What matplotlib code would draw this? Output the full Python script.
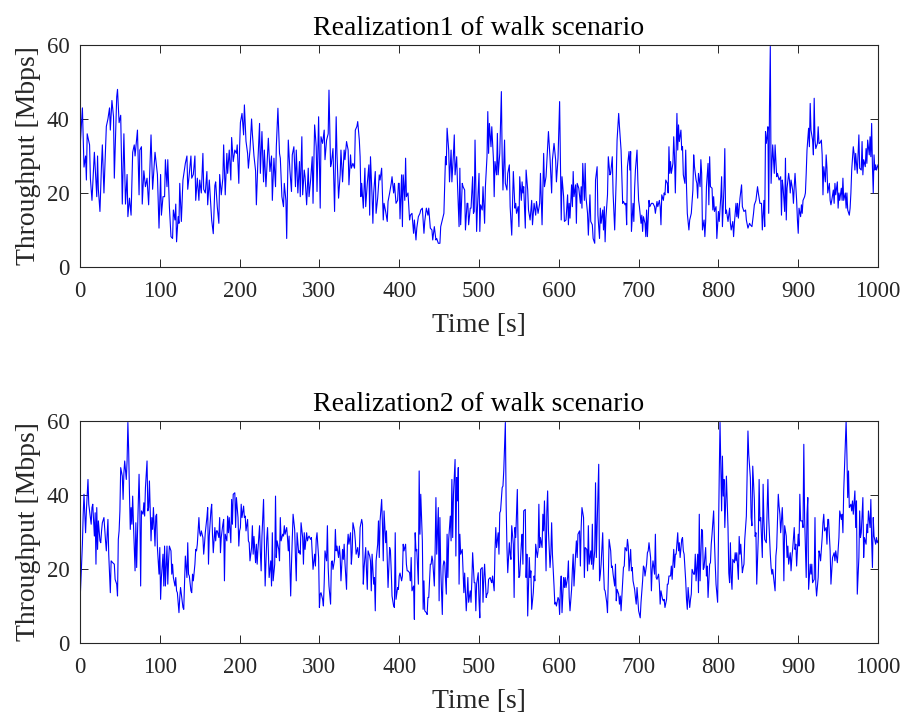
import matplotlib
matplotlib.use("Agg")
import matplotlib.pyplot as plt

# (time [s], throughput [Mbps])
walk1 = [
    (0, 32), (3, 43), (5, 27), (7, 30), (8, 23.5), (9, 36), (12, 33), (13, 24), (15, 18), (18, 31),
    (21, 19), (22, 30), (23, 21), (25, 15), (27, 28), (28, 33), (30, 20), (33, 38), (35, 40), (37, 43),
    (38, 37), (40, 45), (42, 40.6), (43, 24), (46, 46), (47, 48), (49, 39), (51, 41), (53, 17), (55, 36),
    (57, 17), (59, 25), (60, 13.6), (62, 18.6), (64, 14), (66, 31), (68, 33), (69, 30), (72, 37), (74, 19.5),
    (75, 31.6), (77, 32.5), (78, 17), (80, 26), (82, 21.7), (84, 24), (86, 16.8), (89, 35.7), (91, 21), (94, 31),
    (97, 25), (99, 10.5), (101, 25), (102, 14), (104, 19), (106, 19), (107, 29), (109, 21.7), (110, 29), (112, 16.3),
    (114, 8.2), (116, 7.7), (117, 15.4), (119, 12.7), (120, 17), (121, 6.8), (123, 13.6), (124, 11.8), (125, 22.6), (127, 12.3),
    (129, 23.5), (130, 25), (132, 28), (134, 30), (135, 21), (137, 25.3), (139, 30), (140, 24), (142, 25), (144, 30),
    (145, 18), (147, 24), (149, 18), (150, 23.5), (152, 20), (154, 30.7), (155, 21), (157, 20), (159, 25.8), (160, 16.8),
    (162, 23.5), (164, 16.3), (165, 12.7), (167, 9), (169, 22), (170, 23), (172, 16.3), (174, 11.8), (175, 25), (177, 19.5),
    (179, 24), (180, 33), (182, 19.5), (184, 30.7), (185, 25.3), (187, 31.6), (189, 23.5), (190, 35), (192, 28.5), (194, 31.6),
    (196, 30.7), (197, 33), (199, 22.6), (200, 32.5),
    (201, 39), (203, 41.5), (205, 35.7), (206, 43.8), (208, 34), (210, 30.7), (211, 26.7), (213, 31.6), (215, 40), (216, 36),
    (218, 30), (220, 26), (221, 16.8), (223, 29), (225, 38.8), (226, 25.3), (228, 36.6), (230, 23), (231, 31.6), (233, 21.7),
    (235, 30.7), (236, 34.8), (238, 25.8), (240, 30), (241, 18), (243, 29.4), (245, 21.7), (246, 32.5), (248, 42.9), (250, 30.7),
    (251, 29.4), (253, 19), (255, 16.3), (256, 22.6), (258, 18), (259, 7.7), (261, 34.3), (263, 26.2), (265, 20.4), (266, 30.3),
    (268, 32.5), (270, 21.7), (271, 31.6), (273, 20), (275, 28.5), (276, 19), (278, 35.2), (279, 19.5), (281, 26.2), (282, 24.4),
    (284, 16.8), (286, 26.7), (287, 19), (289, 23.5), (291, 29.8), (292, 17.2), (294, 38.4), (296, 32.5), (297, 20.4), (299, 40.6),
    (301, 15.9), (302, 35.2), (304, 33.4), (306, 37), (307, 29), (309, 34.3), (311, 36), (312, 47.8), (314, 27.1), (315, 28),
    (317, 32), (319, 15), (321, 40.6), (322, 30.7), (324, 18.6), (326, 24.9), (327, 31.6), (329, 23), (331, 31.6), (332, 29),
    (334, 33.9), (336, 31.6), (337, 22.2), (339, 30.3), (340, 26.7), (342, 28), (344, 26.7), (345, 37), (347, 38), (348, 39.3),
    (350, 34.3), (351, 29.8), (352, 19), (353, 22.6), (355, 15.9), (357, 26.7), (358, 16.3), (360, 22.6), (362, 27.6), (363, 14),
    (364, 29.8), (366, 19), (367, 11.8), (368, 20), (370, 25.8), (371, 14.5), (373, 18.6), (375, 24.9), (376, 23.5), (378, 26.7),
    (380, 12.7), (381, 17.2), (383, 15), (385, 12.3), (386, 17.7), (388, 20), (390, 22.6), (391, 24.4), (393, 20), (394, 22.6),
    (396, 17.2), (398, 18), (399, 22.6),
    (400, 22.6), (401, 13), (403, 24.9), (404, 10.9), (405, 24.9), (407, 18), (408, 29.4), (409, 19), (411, 20), (413, 12.7),
    (414, 14), (416, 14.5), (418, 9.1), (419, 12.7), (421, 7.3), (422, 10.5), (424, 13.6), (426, 14.5), (427, 15.4), (429, 15.9),
    (431, 9.1), (432, 12.3), (434, 15.9), (436, 14), (437, 15.9), (439, 10.5), (441, 10), (442, 7.3), (444, 10.9), (446, 7.3),
    (447, 7.7), (449, 6.4), (451, 6.4), (452, 10.9), (454, 12.7), (456, 14.5), (457, 21.7), (458, 29.8), (459, 27.6), (460, 37.5),
    (462, 31.6), (463, 23), (465, 31.6), (466, 23), (468, 30.7), (469, 35.7), (470, 24.9), (472, 29.8), (473, 22.6), (475, 10.9),
    (476, 26.7), (477, 11.4), (479, 22.6), (480, 21.7), (482, 20.8), (483, 10), (485, 17.2), (486, 17.2), (487, 11.4), (489, 15.9),
    (490, 15.9), (492, 24.4), (493, 14.5), (494, 15), (495, 34.3), (497, 9.6), (498, 15.9), (500, 25.3), (501, 9.6), (502, 16.8),
    (504, 15.4), (505, 21.7), (507, 11.8), (508, 21.7), (510, 29.8), (511, 42), (512, 30.7), (513, 38.8), (515, 32.5), (516, 37.9),
    (518, 29.4), (519, 19), (520, 28.5), (522, 24.9), (523, 36.1), (524, 24.9), (526, 30.7), (528, 47.4), (529, 29.8), (530, 20.8),
    (532, 34.3), (533, 22.6), (535, 20.8), (536, 25.3), (538, 27.6), (539, 16.3), (541, 8.6), (542, 17.7), (543, 25.8), (545, 15.9),
    (546, 17.2), (547, 14.5), (549, 16.3), (550, 10.9), (551, 24.4), (553, 18), (554, 23), (555, 20), (556, 21.7), (558, 10.5),
    (559, 26.2), (561, 20.8), (562, 15.4), (564, 12.7), (566, 18), (567, 11.4), (569, 17.2), (571, 14), (572, 17.7), (574, 14.5),
    (576, 17.2), (577, 25.3), (579, 11.4), (581, 30.7), (582, 21.7), (584, 24.4), (586, 32.5), (587, 36.6), (589, 29.4), (591, 20),
    (592, 29), (594, 33.4), (596, 29), (597, 23), (599, 29.4), (601, 44.7),
    (603, 12.7), (604, 24.4), (606, 19), (607, 12.3), (609, 12.7), (611, 19.5), (612, 11.4), (613, 17.2), (614, 13.2), (616, 22.2),
    (617, 16.3), (618, 25.8), (619, 19), (621, 22.2), (622, 11.8), (623, 22.6), (625, 21.3), (627, 17.2), (628, 21.7), (629, 15.9),
    (630, 28), (632, 18), (633, 28), (634, 19), (636, 14.5), (637, 8.6), (639, 19.5), (640, 12.3), (642, 11.4), (643, 7.7),
    (645, 6.4), (646, 23.5), (648, 27.1), (649, 14), (651, 7.7), (652, 15.9), (653, 11.8), (655, 15.4), (656, 10), (657, 16.3),
    (658, 6.8), (659, 13.2), (661, 19.5), (662, 29.8), (664, 24.9), (665, 25.3), (667, 29.8), (668, 20), (670, 10), (672, 24.4),
    (673, 34.3), (675, 41.5), (676, 37.9), (678, 31.6), (679, 24.4), (680, 17.2), (681, 17.7), (683, 16.8), (684, 17.2), (685, 11.4),
    (686, 27.1), (688, 31.2), (689, 26.2), (690, 31.2), (691, 9.6), (693, 17.2), (694, 12.3), (695, 21.3), (696, 26.2), (698, 31.6),
    (699, 23.5), (700, 18), (701, 16.3), (703, 11.8), (704, 14), (705, 9.6), (706, 13.6), (708, 11.8), (709, 8.2), (710, 15.4),
    (711, 8.2), (713, 18), (714, 16.3), (716, 17.2), (717, 17.2), (718, 17.2), (720, 16.3), (721, 14.5), (723, 17.7), (724, 16.3),
    (726, 18), (727, 16.3), (728, 11.4), (729, 19.5), (731, 18), (732, 20), (733, 19.5), (734, 23.5), (736, 22.6), (737, 20),
    (738, 32.5), (739, 25.3), (740, 28.5), (741, 25.3), (743, 28), (744, 35.2), (745, 29.8), (746, 20), (748, 41.5), (749, 31.6),
    (750, 38.4), (751, 33.9), (753, 37), (754, 31.6), (755, 32.5), (756, 24.9), (758, 22.6), (759, 31.6), (760, 21.7), (761, 14.5),
    (763, 10), (764, 12.7), (765, 13.6), (766, 14.5), (768, 20.8), (769, 30.3), (770, 27.1), (772, 23.5), (773, 22.6), (774, 18.6),
    (775, 25.3), (777, 21.7), (778, 29), (779, 25.3), (780, 10), (782, 12.7), (783, 8.2), (784, 12.3), (785, 21.7), (787, 28),
    (788, 16.8), (789, 29.8), (790, 21.7), (792, 21.3), (793, 15.4), (794, 19), (795, 15), (797, 16.3), (798, 7.7), (800, 15),
    (801, 12.3),
    (803, 19), (804, 24.4), (805, 10.9), (807, 21.7), (808, 32), (809, 14.5), (810, 15.4), (812, 12.3), (814, 15.9), (815, 11.8),
    (816, 10), (818, 12.3), (819, 8.2), (820, 11.8), (822, 17.2), (823, 13.6), (824, 17.2), (825, 13.2), (827, 18.6), (829, 22.2),
    (830, 16.3), (832, 15), (834, 15.4), (835, 12.7), (837, 10.5), (839, 11.8), (840, 11.4), (842, 10.9), (844, 14.5), (845, 16.8),
    (847, 18), (849, 21.7), (850, 20), (852, 17.2), (854, 17.2), (855, 10), (857, 18), (858, 10.9), (859, 36.6), (860, 33.4),
    (861, 35.2), (862, 37.9), (863, 14.5), (864, 43.3), (865, 59.6), (866, 22.6), (868, 33), (869, 29), (870, 25.3), (871, 33),
    (873, 24.4), (874, 25.3), (875, 24.4), (876, 23.5), (878, 24.4), (879, 14), (880, 23.5), (881, 21.7), (883, 15), (884, 29.4),
    (885, 12.7), (886, 21.3), (888, 25.3), (889, 23.5), (890, 20), (891, 23.5), (893, 20.8), (894, 17.2), (895, 21.7), (896, 25.3),
    (898, 18), (899, 12.7), (900, 9.1), (901, 15.9), (903, 13.6), (904, 16.8), (905, 14.5), (906, 18), (908, 19), (909, 20),
    (910, 25.3), (911, 31.6), (913, 37.5), (914, 32.5), (915, 44.2), (916, 37), (918, 34.3), (919, 30.3), (920, 45.6), (921, 34.3),
    (922, 32), (924, 33.4), (925, 37.9), (926, 33.4), (927, 33.4), (929, 34.3), (930, 30.3), (931, 19.5), (932, 27.1), (934, 23),
    (935, 30.3), (936, 26.7), (937, 20), (939, 22.6), (940, 18), (941, 16.8), (942, 18), (944, 20.8), (945, 17.2), (946, 22.6),
    (947, 19.5), (949, 23), (950, 15.9), (951, 20), (952, 18), (954, 21.3), (955, 18), (956, 24), (957, 18), (959, 20),
    (960, 15.9), (961, 20), (962, 15.4), (964, 14), (965, 15.9), (966, 20), (967, 26.2), (969, 32.5), (970, 30.7), (971, 26.2),
    (972, 30.7), (974, 25.3), (975, 30.7), (976, 35.7), (977, 26.7), (979, 26.2), (980, 33.9), (981, 24.9), (982, 29), (984, 27.1),
    (985, 32), (986, 28), (987, 34.3), (989, 30.3), (990, 35.2), (991, 29.8), (992, 38.8), (993, 27.1), (994, 20), (995, 30.3),
    (996, 26.2), (997, 27.6), (998, 26.2), (1000, 27.6),
]

walk2 = [
    (0, 10.9), (3, 26.7), (4, 34.8), (5, 40.2), (7, 29.8), (8, 35.7), (10, 44.2), (11, 37.5), (13, 33.9), (14, 32.1),
    (15, 36.6), (16, 37.5), (18, 28.9), (19, 35.2), (20, 21.3), (21, 36.6), (22, 25.3), (23, 33), (25, 27.6), (26, 27.1),
    (27, 30.3), (28, 32.5), (30, 33.9), (31, 30.7), (32, 27.6), (33, 24.9), (35, 33.4), (36, 24), (38, 13.6), (39, 22.2),
    (41, 21.7), (43, 21.3), (44, 17.2), (46, 15.9), (47, 12.7), (48, 28), (49, 30.3), (50, 35.7), (51, 47.4), (53, 45.1),
    (54, 38.8), (55, 46), (56, 49.2), (58, 44.2), (59, 49.2), (60, 59.6), (61, 51.9), (62, 40.2), (63, 30.7), (64, 36.6),
    (65, 32.1), (66, 39.7), (67, 32.1), (69, 19.5), (70, 32.5), (71, 20.4), (72, 29.4), (74, 45.6), (75, 36.1), (76, 15.4),
    (77, 35.7), (79, 34.8), (80, 37.9), (81, 34.3), (82, 42), (84, 49.2), (85, 35.7), (86, 36.6), (87, 43.8), (89, 27.6),
    (90, 33.9), (91, 30.7), (92, 36.6), (94, 26.2), (95, 34.3), (96, 34.8), (97, 25.8), (99, 18.6), (100, 25.8), (101, 11.8),
    (102, 17.7), (104, 24), (105, 15.4), (106, 26.2), (107, 15.4), (109, 26.2), (110, 15.9), (111, 22.2), (112, 26.2), (114, 24.9),
    (115, 18.6), (116, 21.3), (117, 17.7), (119, 15.4), (120, 17.7), (121, 14.1), (122, 13.6), (124, 8.2), (125, 12.3), (126, 15),
    (127, 13.2), (129, 9.6), (130, 9.1), (131, 16.3), (132, 23.5), (134, 17.7), (135, 27.1), (136, 18.6), (137, 18.1), (139, 14.1),
    (140, 13.6), (141, 18.6), (142, 16.8), (144, 21.3), (145, 25.3), (146, 24.9), (147, 26.7), (149, 33.9), (150, 29.8), (151, 28.9),
    (152, 30.3), (154, 28.5), (155, 24), (156, 26.7), (157, 29.8), (159, 33.9), (160, 36.6), (161, 21.3), (162, 28.9), (164, 35.7),
    (165, 37.5), (166, 29.4), (167, 24.4), (169, 31.2), (170, 27.6), (171, 30.3), (172, 30.3), (174, 28.5), (175, 33.9), (176, 24.4),
    (177, 28.5), (179, 32.1), (180, 33.4), (181, 16.8), (182, 29.4), (184, 27.6), (185, 34.3), (186, 29.8), (187, 33.9), (189, 27.1),
    (190, 38.8), (191, 32.1), (192, 40.2), (194, 40.6), (195, 31.2), (196, 39.3), (198, 33.9), (199, 26.2), (200, 30.3),
    (201, 31.2), (202, 37.5), (203, 33.9), (205, 37), (206, 33.9), (207, 34.3), (208, 30.3), (210, 33.4), (211, 27.6), (212, 27.1),
    (213, 22.2), (215, 25.8), (216, 31.7), (217, 24), (218, 28.8), (220, 21.7), (221, 26.7), (222, 21.3), (223, 25.3), (225, 31.7),
    (226, 24.4), (227, 19.5), (228, 28.8), (230, 38.8), (231, 27.6), (232, 15.4), (234, 28), (235, 31.2), (236, 24.9), (237, 17.7),
    (239, 22.2), (240, 15.4), (241, 29.8), (242, 16.8), (244, 21.3), (245, 39.7), (246, 23.1), (247, 27.6), (249, 25.3), (250, 22.2),
    (251, 33.9), (252, 27.6), (254, 29.4), (255, 28.9), (256, 31.7), (257, 29.4), (259, 31.2), (260, 28.5), (261, 24.9), (262, 28.9),
    (264, 12.7), (265, 21.3), (266, 28.5), (267, 34.8), (269, 30.7), (270, 23.1), (271, 16.8), (272, 29.8), (274, 24.4), (275, 24.9),
    (276, 24), (277, 32.5), (279, 28.5), (280, 21.3), (281, 29.8), (282, 25.3), (284, 29.8), (285, 27.6), (286, 28.5), (287, 28.9),
    (289, 28), (290, 28.5), (291, 24.4), (292, 19.9), (294, 24), (295, 20.8), (296, 28), (297, 29.8), (299, 23.1), (300, 9.6),
    (301, 13.2), (302, 13.6), (304, 11.8), (305, 10), (306, 16.3), (307, 24.9), (309, 22.2), (310, 31.7), (311, 20.4), (312, 15.4),
    (314, 10.5), (315, 21.7), (316, 22.2), (317, 19.9), (319, 22.6), (320, 30.7), (321, 24.9), (322, 26.2), (324, 23.1), (325, 26.2),
    (326, 23.5), (327, 16.8), (329, 25.3), (330, 22.6), (331, 26.7), (332, 21.7), (334, 14.5), (335, 26.2), (336, 29.4), (337, 26.7),
    (339, 29.8), (340, 21.3), (341, 24.4), (342, 32.5), (344, 30.3), (345, 27.6), (346, 24), (348, 25.8), (349, 23.1), (350, 24),
    (351, 31.2), (353, 33.4), (354, 32.1), (355, 15.9), (356, 20.4), (358, 25.8), (359, 19.5), (360, 14.5), (361, 24.9), (363, 23.5),
    (364, 22.2), (365, 14.1), (366, 24), (368, 15.9), (369, 17.7), (370, 8.7), (371, 22.2), (373, 26.7), (374, 33), (375, 23.1),
    (376, 33), (378, 38.8), (379, 32.1), (380, 22.2), (381, 35.7), (383, 27.1), (384, 30.3), (385, 22.2), (386, 15), (388, 25.8),
    (389, 24.9), (390, 19.5), (391, 12.7), (393, 10), (394, 9.6), (395, 29.8), (396, 11.8), (398, 15), (399, 14.5), (400, 18.1),
    (401, 18.9), (403, 16.8), (404, 18.1), (405, 26.7), (406, 24.9), (408, 26.7), (409, 21.3), (410, 19.5), (411, 19.5), (413, 19),
    (414, 16.8), (415, 23.1), (416, 14.1), (418, 15.4), (419, 6.4), (420, 29.8), (421, 24.9), (422, 25.3), (424, 15.9), (425, 46.5),
    (426, 29.4), (427, 40.2), (429, 27.6), (430, 9.1), (431, 16.8), (432, 8.7), (434, 8.2), (435, 7.7), (436, 12.3), (437, 12.3),
    (439, 21.3), (440, 21.3), (441, 23.5), (442, 22.2), (444, 15.4), (445, 24.9), (446, 39.3), (447, 24), (449, 36.6), (450, 11.4),
    (451, 33.9), (452, 20.4), (454, 7.7), (455, 20.8), (456, 22.2), (457, 21.7), (459, 13.2), (460, 29.4), (461, 17.7), (462, 28),
    (464, 34.3), (465, 27.6), (466, 44.2), (467, 28.5), (468, 40.2), (470, 49.6), (471, 23.5), (472, 44.7), (473, 38.4), (474, 47.4),
    (475, 15.9), (476, 29.4), (477, 24), (479, 25.3), (480, 19.5), (481, 13.6), (482, 18.9), (484, 8.7), (485, 12.7), (486, 17.7),
    (487, 11), (489, 14.1), (490, 11), (491, 16.8), (492, 24.4), (494, 16.3), (495, 16.3), (496, 8.7), (497, 15.9), (499, 19),
    (500, 11.4), (501, 6.8), (502, 19.9), (504, 20.4), (505, 11), (506, 17.7), (507, 21.3), (509, 12.3), (510, 13.2), (511, 13.6),
    (512, 17.2), (514, 17.7), (515, 16.8), (516, 16.3), (517, 18.1), (519, 14.1), (520, 24.9), (521, 31.2), (522, 25.8), (524, 29.8),
    (525, 24), (526, 35.2), (527, 35.7), (529, 42), (530, 42.4), (531, 46.5), (532, 52.8), (533, 59.6), (534, 37.5), (535, 25.8),
    (536, 19), (538, 27.1), (539, 24), (540, 22.6), (541, 31.7), (543, 26.7), (544, 12.3), (545, 31.2), (546, 28.5), (548, 41.5),
    (549, 25.8), (550, 17.7), (551, 18.1), (553, 26.7), (554, 29.4), (555, 21.3), (556, 35.7), (558, 36.1), (559, 17.7), (560, 24),
    (561, 7.3), (563, 23.1), (564, 17.7), (565, 19.5), (566, 9.1), (568, 13.6), (569, 18.1), (570, 16.8), (571, 26.7), (573, 23.1),
    (574, 24.9), (575, 37.5), (576, 25.8), (577, 28.5), (579, 25.8), (580, 34.8), (581, 30.3), (582, 38.4), (584, 19.5), (585, 35.7),
    (586, 41.1), (587, 30.3), (589, 20.4), (590, 24), (591, 32.5), (592, 24), (594, 15.4), (595, 10.5), (596, 11), (597, 10),
    (599, 12.3), (600, 11.8), (601, 7.7),
    (602, 15), (603, 18.1), (604, 8.2), (606, 17.7), (607, 15), (608, 17.7), (609, 15), (611, 17.7), (612, 22.2), (613, 12.3),
    (614, 8.7), (616, 14.5), (617, 19.9), (618, 24), (619, 15.4), (621, 24), (622, 27.6), (623, 23.1), (624, 29.4), (626, 30.3),
    (627, 20.8), (628, 31.2), (629, 36.6), (631, 33.9), (632, 17.7), (633, 25.8), (635, 25.3), (636, 19.5), (637, 31.7), (638, 21.3),
    (640, 24.9), (641, 21.3), (642, 32.1), (643, 19.9), (645, 24.9), (646, 43.3), (647, 23.1), (648, 31.2), (650, 48.3), (651, 16.8),
    (652, 18.6), (653, 21.3), (655, 29.8), (656, 20.4), (657, 14.5), (658, 14.1), (660, 11), (661, 8.2), (662, 17.2), (663, 28),
    (665, 24.9), (666, 20.4), (667, 20.8), (668, 18.6), (670, 15.4), (671, 21.3), (672, 11.4), (673, 14.5), (675, 13.2), (676, 10.5),
    (677, 12.7), (678, 8.7), (680, 16.8), (681, 20.4), (682, 20.8), (683, 25.8), (685, 24.9), (686, 28), (687, 26.2), (688, 19.5),
    (690, 25.3), (691, 19.5), (692, 20.4), (693, 16.8), (695, 14.5), (696, 12.3), (697, 10.5), (698, 15), (700, 8.7), (701, 7.7),
    (702, 6.8), (703, 11), (705, 16.8), (706, 20.8), (707, 20.4), (708, 18.1), (710, 21.3), (711, 24.4), (712, 24.9), (713, 27.1),
    (715, 23.1), (716, 14.1), (717, 19.9), (718, 22.2), (720, 18.6), (721, 29.4), (722, 17.7), (723, 17.2), (725, 18.6), (726, 15.9),
    (727, 10.5), (728, 14.1), (730, 11.8), (731, 11.4), (732, 11.8), (733, 9.6), (735, 11.8), (736, 15.9), (737, 15.9), (738, 18.1),
    (740, 18.1), (741, 20.8), (742, 17.2), (744, 25.3), (745, 20.4), (746, 24), (747, 24), (749, 29.8), (750, 24.9), (751, 27.1),
    (752, 23.1), (754, 28), (755, 28.5), (756, 24.9), (757, 24), (759, 16.8), (760, 11.8), (761, 9.1), (762, 15), (764, 9.6),
    (765, 11.8), (766, 13.2), (767, 19.9), (769, 18.6), (770, 18.6), (771, 24), (772, 16.8), (774, 24), (775, 13.6), (776, 34.8),
    (777, 16.8), (779, 30.7), (780, 30.3), (781, 19.9), (782, 20.4), (784, 25.8), (785, 18.1), (786, 20.8), (787, 12.3), (789, 21.3),
    (790, 21.7), (791, 26.7), (792, 29.4), (794, 35.7), (795, 27.6), (796, 21.3), (797, 15.9), (799, 11), (800, 28), (801, 45),
    (802, 59.6), (804, 35.7), (805, 50.5), (806, 39.7), (807, 44.2), (808, 31.2), (809, 37.5), (810, 45.1), (812, 31.2), (813, 18.9),
    (814, 16.3), (815, 27.1), (816, 17.7), (817, 14.5), (818, 22.6), (820, 21.7), (821, 24.4), (822, 22.2), (823, 24.4), (825, 17.2),
    (826, 28.8), (827, 24), (828, 26.7), (830, 19), (831, 20.4), (832, 21.3), (833, 28), (835, 34.3), (836, 46.5), (837, 57.3),
    (838, 50.9), (840, 44.7), (841, 33.9), (842, 31.7), (843, 47.8), (845, 38.8), (846, 28.8), (847, 29.8), (848, 15.9), (850, 28.9),
    (851, 44.2), (852, 33), (853, 33.9), (855, 23.1), (856, 42.9), (857, 33), (858, 28), (860, 27.1), (861, 35.7), (862, 44.2),
    (863, 33.9), (865, 24), (866, 20.4), (867, 18.6), (868, 19.9), (870, 15.9), (871, 14.1), (872, 23.5), (873, 25.8), (875, 40.2),
    (876, 37), (877, 34.8), (878, 29.8), (880, 36.6), (881, 30.7), (882, 16.8), (883, 31.7), (885, 28.9), (886, 23.1), (887, 26.2),
    (888, 21.3), (890, 24.4), (891, 19.5), (892, 23.1), (893, 25.3), (895, 31.2), (896, 25.3), (897, 26.7), (898, 20.8), (900, 29.4),
    (901, 26.2), (902, 40.2), (903, 33), (905, 33), (906, 31.2), (907, 53.7), (908, 33.9), (910, 17.7), (911, 34.8), (912, 39.3),
    (913, 14.5), (915, 21.3), (916, 18.6), (917, 21.3), (918, 16.3), (920, 17.2), (921, 33.9), (922, 15.9), (923, 12.7), (925, 17.7),
    (926, 24.9), (927, 24), (928, 22.2), (930, 28.5), (931, 32.5), (932, 34.8), (933, 30.3), (935, 31.2), (936, 26.7), (937, 33.4),
    (938, 33.4), (940, 24.9), (941, 15.9), (942, 19.5), (943, 23.1), (945, 24.4), (946, 22.2), (947, 24.9), (949, 21.7), (950, 24.9),
    (951, 28.5), (952, 35.7), (954, 33.4), (955, 34.8), (956, 29.8), (957, 41.1), (959, 54.1), (960, 60), (961, 50.9), (962, 39.3),
    (963, 46.5), (964, 36.6), (966, 37.5), (967, 35.7), (968, 38.4), (969, 34.8), (971, 41.1), (972, 31.2), (973, 38.4), (974, 13.2),
    (976, 23.1), (977, 35.7), (978, 28.5), (979, 29.8), (981, 39.3), (982, 23.1), (983, 28.5), (985, 26.7), (986, 32.1), (987, 29.8),
    (988, 35.7), (990, 31.2), (991, 38.8), (992, 27.6), (993, 20.4), (994, 33.9), (995, 28.9), (997, 26.7), (998, 28.5), (999, 27.1),
    (1000, 27.6),
]

titles = ["Realization1 of walk scenario", "Realization2 of walk scenario"]
x_ticks = [0, 100, 200, 300, 400, 500, 600, 700, 800, 900, 1000]
y_ticks = [0, 20, 40, 60]

dark = "#262626"
plt.rcParams["font.family"] = ["Liberation Serif", "DejaVu Serif"]

fig = plt.figure(figsize=(9.05, 7.15), dpi=100)
ax1 = fig.add_axes([0.0884, 0.6266, 0.8818, 0.3105])
ax2 = fig.add_axes([0.0884, 0.1007, 0.8818, 0.3105])

for ax, data, title in zip([ax1, ax2], [walk1, walk2], titles):
    t, thr = zip(*data)
    ax.plot(t, thr, color="#0000ff", linewidth=0.8)
    ax.set_xlim(0, 1000)
    ax.set_ylim(0, 60)
    ax.set_xticks(x_ticks)
    ax.set_yticks(y_ticks)
    ax.tick_params(direction="in", length=5.5, width=0.7, top=True, right=True,
                   labelsize=16.5, colors=dark)
    ax.tick_params(axis="x", pad=10)
    ax.tick_params(axis="y", pad=7.5)
    for s in ax.spines.values():
        s.set_color(dark)
        s.set_linewidth(0.8)
    ax.set_title(title, fontsize=20, color="black", pad=7)
    ax.set_xlabel("Time [s]", fontsize=20, color=dark, labelpad=8)
    ax.set_ylabel("Throughput [Mbps]", fontsize=20, color=dark, labelpad=4)

fig.savefig("out.png", dpi=100)
